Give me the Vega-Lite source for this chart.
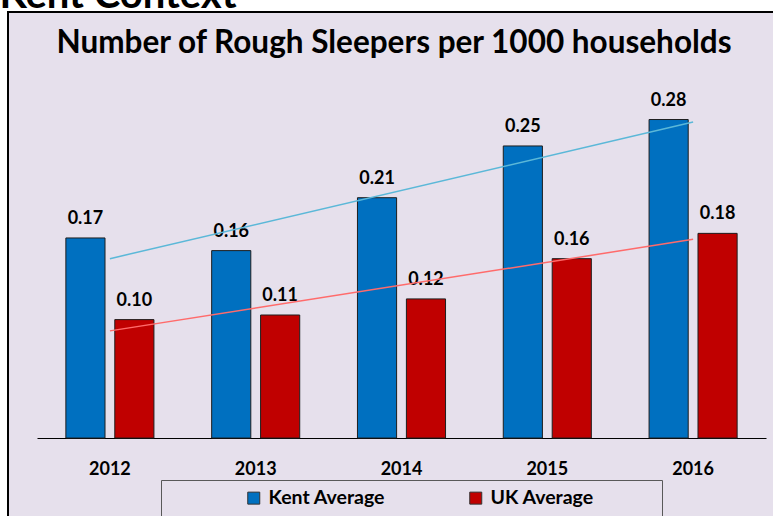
{
  "$schema": "https://vega.github.io/schema/vega-lite/v6.json",
  "width": 772,
  "height": 510,
  "autosize": "none",
  "padding": {"left": 8, "top": 12, "right": -7, "bottom": -6},
  "background": "white",
  "title": {
    "text": "Number of Rough Sleepers per 1000 households",
    "frame": "group",
    "anchor": "middle",
    "orient": "top",
    "offset": -109,
    "baseline": "alphabetic",
    "font": "Lato",
    "fontSize": 31.5,
    "fontWeight": "bold",
    "color": "black"
  },
  "data": {
    "values": [
      {"year": 2012, "series": "Kent Average", "value": 0.174},
      {"year": 2012, "series": "UK Average", "value": 0.103},
      {"year": 2013, "series": "Kent Average", "value": 0.163},
      {"year": 2013, "series": "UK Average", "value": 0.107},
      {"year": 2014, "series": "Kent Average", "value": 0.209},
      {"year": 2014, "series": "UK Average", "value": 0.121},
      {"year": 2015, "series": "Kent Average", "value": 0.254},
      {"year": 2015, "series": "UK Average", "value": 0.156},
      {"year": 2016, "series": "Kent Average", "value": 0.277},
      {"year": 2016, "series": "UK Average", "value": 0.178}
    ]
  },
  "encoding": {
    "x": {
      "field": "year",
      "type": "ordinal",
      "scale": {"range": [29, 758], "paddingInner": 0, "paddingOuter": 0},
      "axis": {
        "title": null,
        "orient": "bottom",
        "offset": -84,
        "domainColor": "black",
        "domainWidth": 1,
        "ticks": false,
        "tickSize": 0,
        "grid": false,
        "labelAngle": 0,
        "labelFont": "Lato",
        "labelFontSize": 18,
        "labelFontWeight": "bold",
        "labelColor": "black",
        "labelBaseline": "alphabetic",
        "labelPadding": 36
      }
    },
    "y": {
      "field": "value",
      "type": "quantitative",
      "scale": {"domain": [-0.073, 0.3705], "nice": false, "zero": false},
      "axis": {
        "title": "Kent Context",
        "labels": false,
        "ticks": false,
        "domain": false,
        "grid": false,
        "titleAngle": 0,
        "titleAlign": "left",
        "titleBaseline": "alphabetic",
        "titleX": -9,
        "titleY": -5,
        "titleFont": "Lato",
        "titleFontSize": 40,
        "titleFontWeight": "bold",
        "titleColor": "black"
      }
    }
  },
  "layer": [
    {
      "mark": {"type": "bar", "stroke": "#1e1e1e", "strokeWidth": 1},
      "encoding": {
        "xOffset": {"field": "series", "type": "nominal", "scale": {"paddingInner": 0.2, "paddingOuter": 0.59}},
        "y2": {"datum": 0},
        "color": {
          "field": "series",
          "type": "nominal",
          "scale": {"range": ["#0070C0", "#C00000"]},
          "legend": {
            "orient": "none",
            "legendX": 153,
            "legendY": 468,
            "direction": "horizontal",
            "title": "\u00a0",
            "titleOrient": "left",
            "titleFontSize": 4,
            "titlePadding": 75,
            "padding": 8,
            "strokeColor": "#595959",
            "symbolType": "square",
            "symbolSize": 144,
            "symbolStrokeColor": "#333333",
            "symbolStrokeWidth": 1,
            "symbolOpacity": 1,
            "labelFont": "Lato",
            "labelFontSize": 19.5,
            "labelFontWeight": "bold",
            "labelColor": "black",
            "labelOffset": 5,
            "labelLimit": 400,
            "columnPadding": 80,
            "labelExpr": "datum.label === 'UK Average' ? datum.label + '\u2800\u2800\u2800\u2800' : datum.label"
          }
        }
      }
    },
    {
      "mark": {"type": "text", "dy": -14, "baseline": "alphabetic", "font": "Lato", "fontSize": 18, "fontWeight": "bold", "color": "black"},
      "encoding": {
        "xOffset": {"field": "series", "type": "nominal"},
        "text": {"field": "value", "type": "quantitative", "format": ".2f"}
      }
    },
    {
      "transform": [{"regression": "value", "on": "year", "groupby": ["series"]}],
      "mark": {"type": "line", "strokeWidth": 1.5},
      "encoding": {
        "stroke": {
          "field": "series",
          "type": "nominal",
          "scale": {"range": ["#5BB8D8", "#FF6B6B"]},
          "legend": null
        }
      }
    }
  ],
  "config": {
    "view": {"stroke": "black", "strokeWidth": 2, "fill": "#E6E0EC"},
    "axis": {"grid": false}
  }
}
